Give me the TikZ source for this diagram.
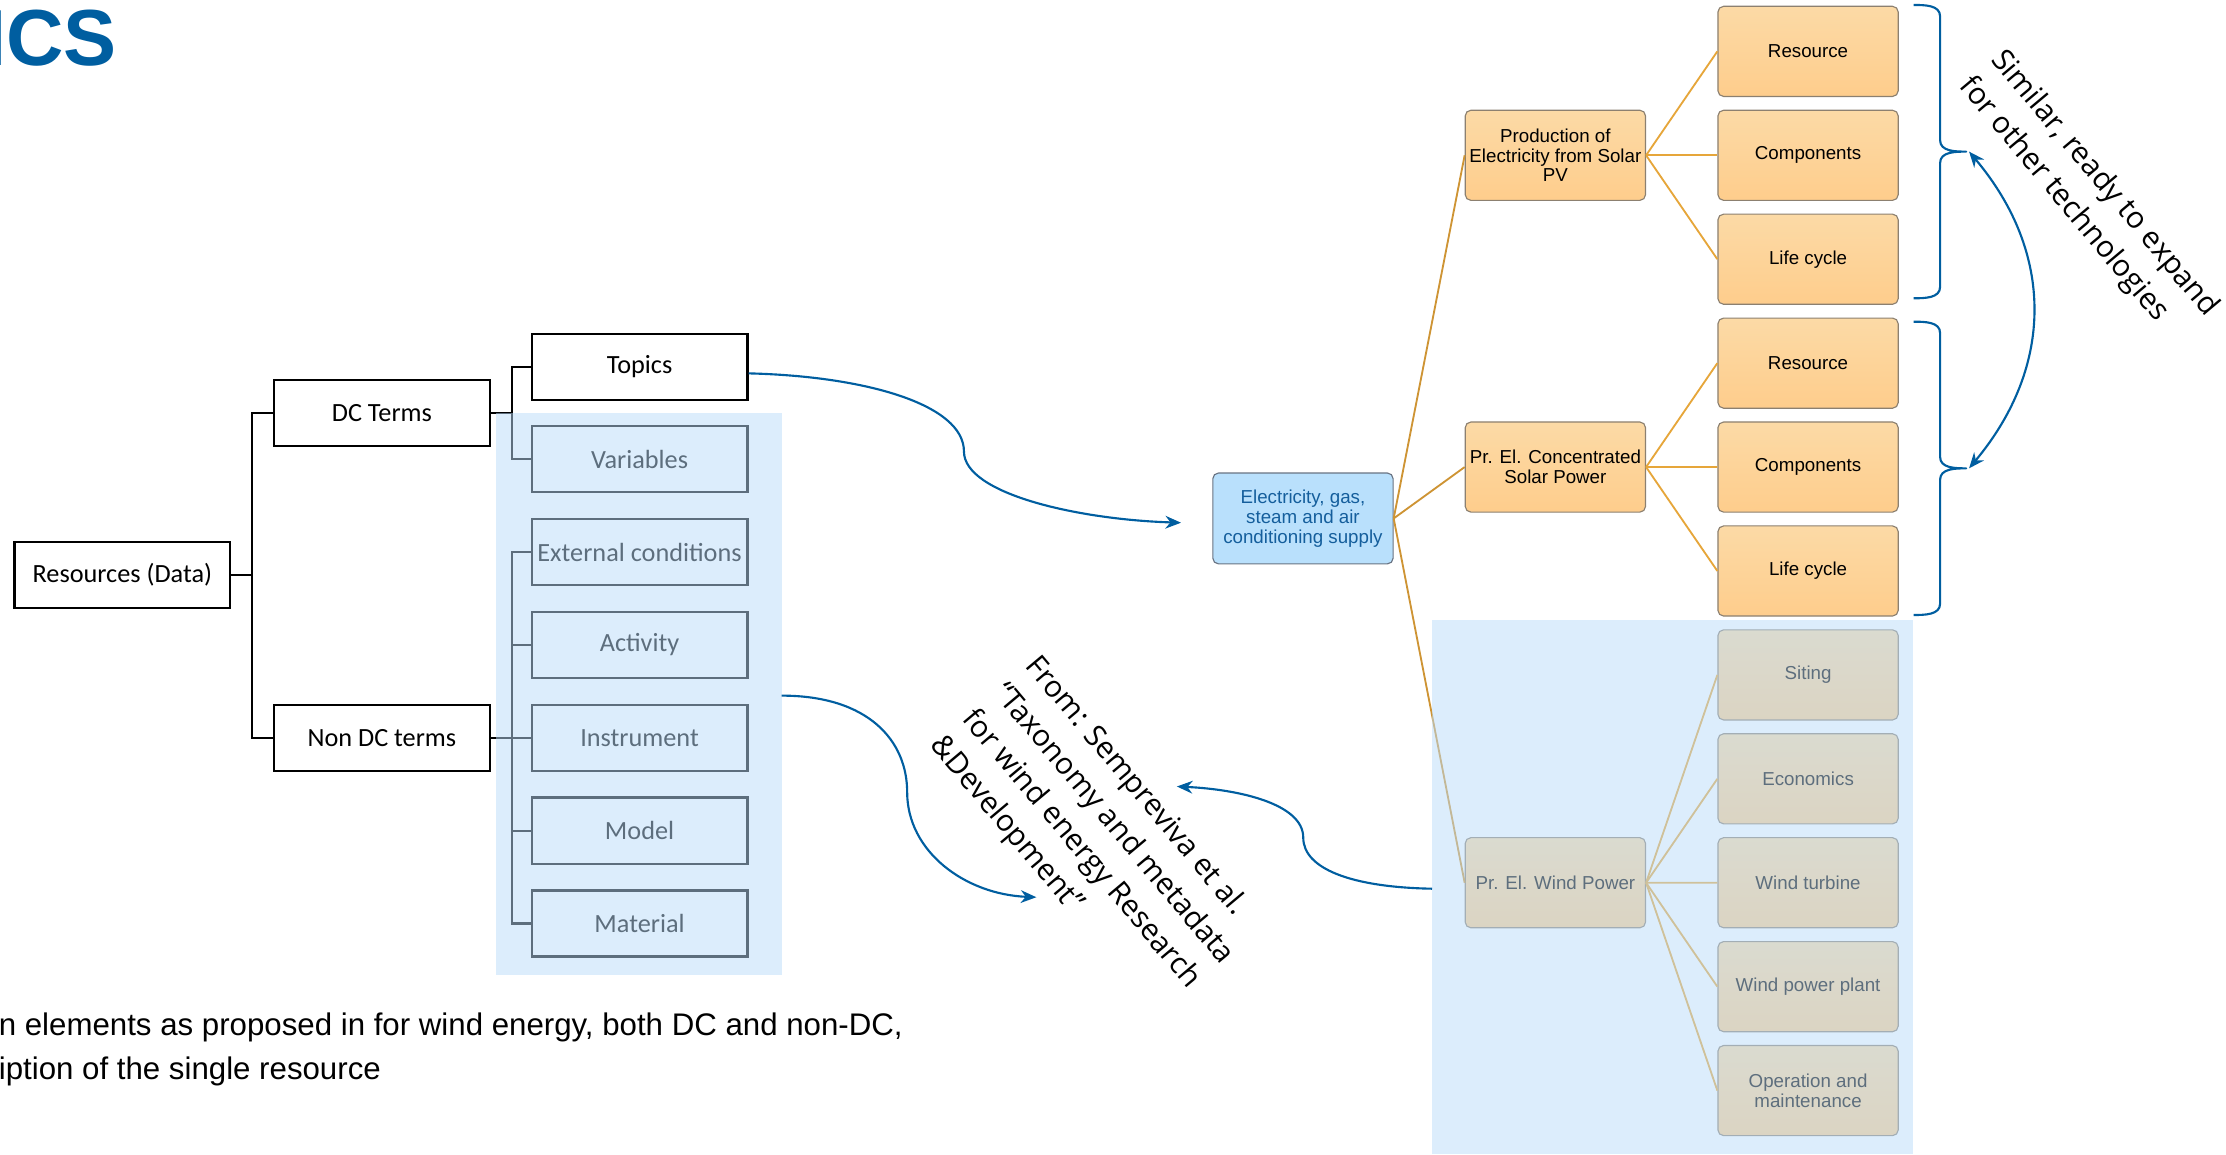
\documentclass[tikz,border=0pt]{standalone}
\usepackage{fontspec}
\setmainfont{Liberation Sans}
\newfontfamily\calfont{Carlito}
\newfontfamily\opfont{Open Sans}
\usetikzlibrary{arrows.meta}

\definecolor{fhblue}{RGB}{0,94,160}
\definecolor{orTop}{RGB}{252,218,166}
\definecolor{orBot}{RGB}{254,205,140}
\definecolor{orEdge}{RGB}{140,128,112}
\definecolor{orLine}{RGB}{230,166,58}
\definecolor{orTrunk}{RGB}{206,148,52}
\definecolor{secFill}{RGB}{185,224,252}
\definecolor{secText}{RGB}{20,94,156}
\definecolor{secEdge}{RGB}{105,115,130}
\definecolor{veil}{RGB}{186,220,250}

\tikzset{
  termbox/.style={draw=black, line width=1.6pt, minimum width=152pt, minimum height=46.5pt,
    inner sep=0pt, font=\calfont\fontsize{18.5}{22}\selectfont},
  treeline/.style={line width=1.6pt},
  catbox/.style={draw=orEdge, line width=0.8pt, rounded corners=4pt, top color=orTop, bottom color=orBot,
    minimum width=127pt, minimum height=63.5pt, inner sep=0pt, align=center,
    font=\fontsize{13.2}{14}\selectfont},
  secbox/.style={draw=secEdge, line width=0.8pt, rounded corners=4pt, fill=secFill, text=secText,
    minimum width=127pt, minimum height=64pt, inner sep=0pt, align=center,
    font=\fontsize{13.2}{14}\selectfont},
  trunk/.style={draw=orTrunk, line width=1.3pt},
  branch/.style={draw=orLine, line width=1.3pt},
  link/.style={draw=fhblue, line width=1.5pt},
  curly/.style={draw=fhblue, line width=1.5pt, line join=round},
  note/.style={inner sep=0pt, align=left, font=\opfont\fontsize{21}{29}\selectfont},
  caption/.style={anchor=base west, inner sep=0pt, font=\fontsize{22}{26}\selectfont},
}

\begin{document}
\begin{tikzpicture}[x=1pt, y=1pt]

  \newcommand\Yr{73.2}
  \newcommand\Yl{65.4}

  \useasboundingbox (0,0) rectangle (1568,-813);

  \node[anchor=base east, inner sep=0pt, text=fhblue, font=\bfseries\fontsize{56}{60}\selectfont] (title) at (82.5,-45.8) {ICS};

  \node[termbox] (res) at (86.2,-405) {Resources (Data)};
  \node[termbox] (dc) at (269,-291.1) {DC Terms};
  \node[termbox] (ndc) at (269,-520) {Non DC terms};
  \node[termbox] (topics) at (450.5,-258.5) {Topics};
  \node[termbox] (vars) at (450.5,-323.5) {Variables};
  \foreach \n/\t [count=\i] in {ext/External conditions, act/Activity, ins/Instrument, mod/Model, mat/Material}
    \node[termbox] (\n) at (450.5,-323.5-\i*\Yl) {\t};

  \draw[treeline] (res.east) -- ++(14.7,0) |- (dc.west);
  \draw[treeline] (res.east) -- ++(14.7,0) |- (ndc.west);
  \draw[treeline] (dc.east) -- ++(15,0) |- (topics.west);
  \draw[treeline] (dc.east) -- ++(15,0) |- (vars.west);
  \foreach \n in {ext,act,ins,mod,mat}
    \draw[treeline] (ndc.east) -- ++(15,0) |- (\n.west);

  \node[secbox] (sector) at (917.8,-365.2) {Electricity, gas,\\steam and air\\conditioning supply};
  \node[catbox] (pv) at (1095.6,-109.4) {Production of\\Electricity from Solar\\PV};
  \node[catbox] (csp) at (1095.6,-329) {Pr. El. Concentrated\\Solar Power};
  \node[catbox] (wind) at (1095.6,-621.8) {Pr. El. Wind Power};
  \foreach \n/\t [count=\i from 0] in {pvres/Resource, pvcomp/Components, pvlife/Life cycle,
      cspres/Resource, cspcomp/Components, csplife/Life cycle,
      site/Siting, econ/Economics, turb/Wind turbine, plant/Wind power plant, om/{Operation and\\maintenance}}
    \node[catbox] (\n) at (1273.6,-36.2-\i*\Yr) {\t};

  \foreach \m in {pv,csp,wind}
    \draw[trunk] (sector.east) -- (\m.west);
  \foreach \c in {pvres,pvcomp,pvlife}
    \draw[branch] (pv.east) -- (\c.west);
  \foreach \c in {cspres,cspcomp,csplife}
    \draw[branch] (csp.east) -- (\c.west);
  \foreach \c in {site,econ,turb,plant,om}
    \draw[branch] (wind.east) -- (\c.west);

  \fill[veil, opacity=0.5] (349.4,-291.2) rectangle (550.6,-686.5);
  \fill[veil, opacity=0.5] (1008.7,-436.8) rectangle (1347.8,-813);

  \foreach \t in {3.5,226.6}
    \draw[curly] (1348,-\t) to[out=0,in=90] (1366.6,-\t-8) -- (1366.6,-\t-95.3)
      to[out=-90,in=180] (1385,-\t-103.3) to[out=180,in=90] (1366.6,-\t-111.3)
      -- (1366.6,-\t-198.6) to[out=-90,in=0] (1348,-\t-206.6);

  \coordinate (tipA) at (1387,-106.8);
  \coordinate (tipB) at (1387,-329.9);
  \coordinate (insOut) at (550.6,-490);
  \coordinate (srcTip) at (730,-632);
  \coordinate (windOut) at (1008.7,-626);
  \coordinate (fromTip) at (829,-554);

  \draw[link, {Stealth[length=11pt,width=9pt]}-{Stealth[length=11pt,width=9pt]}]
    (tipA) .. controls (1447,-178) and (1447,-258) .. (tipB);
  \draw[link, -{Stealth[length=11pt,width=9pt]}] ([yshift=-4.5pt]topics.east)
    .. controls (610,-265) and (679,-285) .. (679,-318)
    .. controls (679,-348) and (760,-366) .. ([xshift=-22pt,yshift=-3pt]sector.west);
  \draw[link, -{Stealth[length=11pt,width=9pt]}] (insOut)
    .. controls (612,-490) and (639,-522) .. (639,-558)
    .. controls (639,-600) and (680,-630) .. (srcTip);
  \draw[link, -{Stealth[length=11pt,width=9pt]}] (windOut)
    .. controls (952,-625) and (918,-612) .. (918,-590)
    .. controls (918,-566) and (872,-556) .. (fromTip);

  \node[note, rotate=-50] (fromtxt) at (773,-590) {From: Sempreviva et al.\\“Taxonomy and metadata\\for wind energy Research\\\&Development”};
  \node[note, rotate=-50] (simtxt) at (1471,-139) {Similar, ready to expand\\for other technologies};

  \node[caption] (cap1) at (-1,-729.5) {n elements as proposed in for wind energy, both DC and non-DC,};
  \node[caption] (cap2) at (-1,-760.5) {iption of the single resource};

\end{tikzpicture}
\end{document}
